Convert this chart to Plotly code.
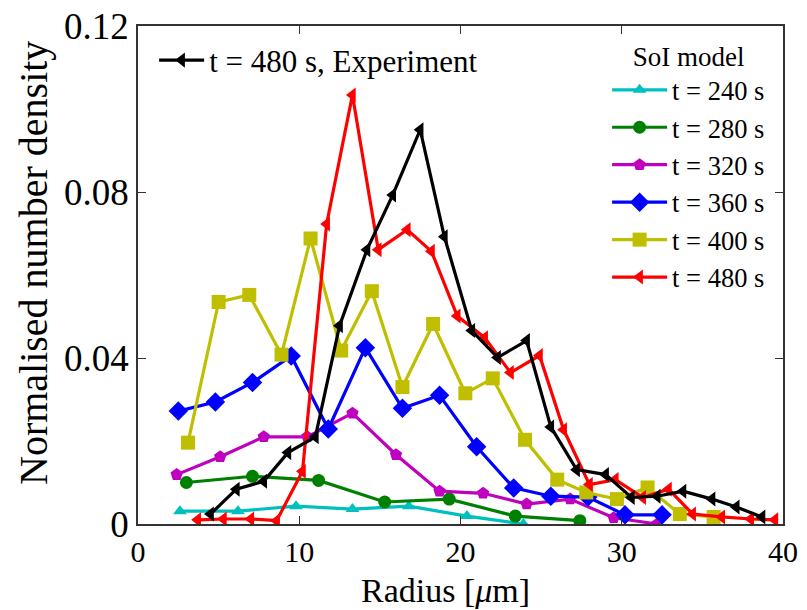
import plotly.graph_objects as go

# ---------------- data ----------------
exp_x = [4.5, 6.1, 7.8, 9.3, 11.0, 12.5, 14.2, 15.8, 17.5, 19.0, 20.7, 22.3, 24.1,
         25.6, 27.2, 29.0, 30.6, 32.2, 33.8, 35.6, 37.1, 38.7]
exp_y = [0.0024, 0.0084, 0.0103, 0.0172, 0.0210, 0.0478, 0.0661, 0.0793, 0.0950,
         0.0692, 0.0466, 0.0401, 0.0442, 0.0234, 0.0131, 0.0119, 0.0064, 0.0067,
         0.0079, 0.0060, 0.0041, 0.0017]

t240_x = [2.6, 6.2, 9.8, 13.3, 16.8, 20.4, 23.9]
t240_y = [0.0031, 0.0031, 0.0043, 0.0036, 0.0043, 0.0019, 0.0000]

t280_x = [3.0, 7.1, 11.2, 15.3, 19.3, 23.4, 27.4]
t280_y = [0.0100, 0.0115, 0.0105, 0.0053, 0.0060, 0.0019, 0.0008]

t320_x = [2.4, 5.1, 7.8, 10.5, 13.3, 16.0, 18.7, 21.4, 24.1, 26.8, 29.5, 32.2]
t320_y = [0.0119, 0.0162, 0.0210, 0.0210, 0.0267, 0.0167, 0.0079, 0.0074, 0.0048,
          0.0060, 0.0015, 0.0000]

t360_x = [2.5, 4.8, 7.1, 9.5, 11.8, 14.1, 16.4, 18.7, 21.0, 23.3, 25.6, 27.9, 30.2, 32.5]
t360_y = [0.0272, 0.0294, 0.0341, 0.0405, 0.0229, 0.0425, 0.0279, 0.0310, 0.0186,
          0.0087, 0.0067, 0.0065, 0.0022, 0.0022]

t400_x = [3.1, 5.0, 6.9, 8.9, 10.7, 12.6, 14.5, 16.4, 18.3, 20.3, 22.0, 24.0, 26.0,
          27.8, 29.7, 31.6, 33.6, 35.7]
t400_y = [0.0196, 0.0535, 0.0552, 0.0408, 0.0688, 0.0418, 0.0561, 0.0330, 0.0482,
          0.0315, 0.0351, 0.0203, 0.0107, 0.0076, 0.0060, 0.0088, 0.0024, 0.0017]

t480_x = [3.7, 5.3, 7.0, 8.6, 10.2, 11.7, 13.3, 14.9, 16.7, 18.2, 19.8, 21.5, 23.1,
          24.9, 26.4, 28.0, 29.6, 31.3, 32.9, 34.4, 36.2, 38.0, 39.5]
t480_y = [0.0010, 0.0012, 0.0012, 0.0008, 0.0127, 0.0723, 0.1034, 0.0661, 0.0709,
          0.0657, 0.0501, 0.0449, 0.0365, 0.0406, 0.0227, 0.0095, 0.0107, 0.0064,
          0.0084, 0.0024, 0.0017, 0.0012, 0.0010]

x_ticks = [0, 10, 20, 30, 40]
x_ticktext = ["0", "10", "20", "30", "40"]
y_ticks = [0, 0.04, 0.08, 0.12]
y_ticktext = ["0", "0.04", "0.08", "0.12"]

x_title = "Radius [<i>μ</i>m]"
y_title = "Normalised number density"

FONT = "Liberation Serif"

model_series = [
    ("t = 240 s", t240_x, t240_y, "#00BFBF", "triangle-up", 12),
    ("t = 280 s", t280_x, t280_y, "#008000", "circle", 13),
    ("t = 320 s", t320_x, t320_y, "#BF00BF", "pentagon", 13),
    ("t = 360 s", t360_x, t360_y, "#0000FF", "diamond", 15),
    ("t = 400 s", t400_x, t400_y, "#BFBF00", "square", 14),
    ("t = 480 s", t480_x, t480_y, "#FF0000", "triangle-left", 13),
]

fig = go.Figure()
for name, xs, ys, col, sym, ms in model_series:
    fig.add_trace(go.Scatter(
        x=xs, y=ys, name=name, mode="lines+markers",
        line=dict(color=col, width=3.2),
        marker=dict(symbol=sym, size=ms, color=col, line=dict(width=0)),
        legend="legend2",
    ))

fig.add_trace(go.Scatter(
    x=exp_x, y=exp_y, name="t = 480 s, Experiment", mode="lines+markers",
    line=dict(color="black", width=3.2),
    marker=dict(symbol="triangle-left", size=13, color="black", line=dict(width=0)),
    legend="legend",
))

fig.update_layout(
    width=807, height=610,
    margin=dict(l=138, r=24, t=26, b=86),
    paper_bgcolor="white", plot_bgcolor="white",
    font=dict(family=FONT, color="black", size=28),
    xaxis=dict(
        range=[0, 40], tickvals=x_ticks, ticktext=x_ticktext,
        ticks="inside", ticklen=8, tickwidth=1, tickcolor="#333",
        showline=True, linecolor="#333", linewidth=1.5, mirror="ticks",
        showgrid=False, zeroline=False, automargin=False,
        tickfont=dict(size=30, family=FONT),
    ),
    yaxis=dict(
        range=[0, 0.12], tickvals=y_ticks, ticktext=y_ticktext,
        ticks="inside", ticklen=8, tickwidth=1, tickcolor="#333",
        showline=True, linecolor="#333", linewidth=1.5, mirror="ticks",
        showgrid=False, zeroline=False, automargin=False,
        tickfont=dict(size=37, family=FONT),
    ),
    legend=dict(
        x=0.025, y=0.985, xanchor="left", yanchor="top",
        bgcolor="rgba(0,0,0,0)", borderwidth=0,
        font=dict(size=31, family=FONT), itemwidth=45,
    ),
    legend2=dict(
        x=0.98, y=0.99, xanchor="right", yanchor="top",
        bgcolor="rgba(0,0,0,0)", borderwidth=0,
        font=dict(size=26.5, family=FONT), itemwidth=55,
        title=dict(text="SoI model", side="top center", font=dict(size=27, family=FONT)),
    ),
    annotations=[
        dict(text=x_title, xref="paper", yref="paper", x=0.5, y=0,
             xanchor="center", yanchor="middle", yshift=-66, xshift=-15, showarrow=False,
             font=dict(size=34, family=FONT)),
        dict(text=y_title, xref="paper", yref="paper", x=0, y=0.5,
             xanchor="center", yanchor="middle", xshift=-105, yshift=12,
             textangle=-90, showarrow=False, font=dict(size=40, family=FONT)),
    ],
    showlegend=True,
)

fig.write_html("out.html")
